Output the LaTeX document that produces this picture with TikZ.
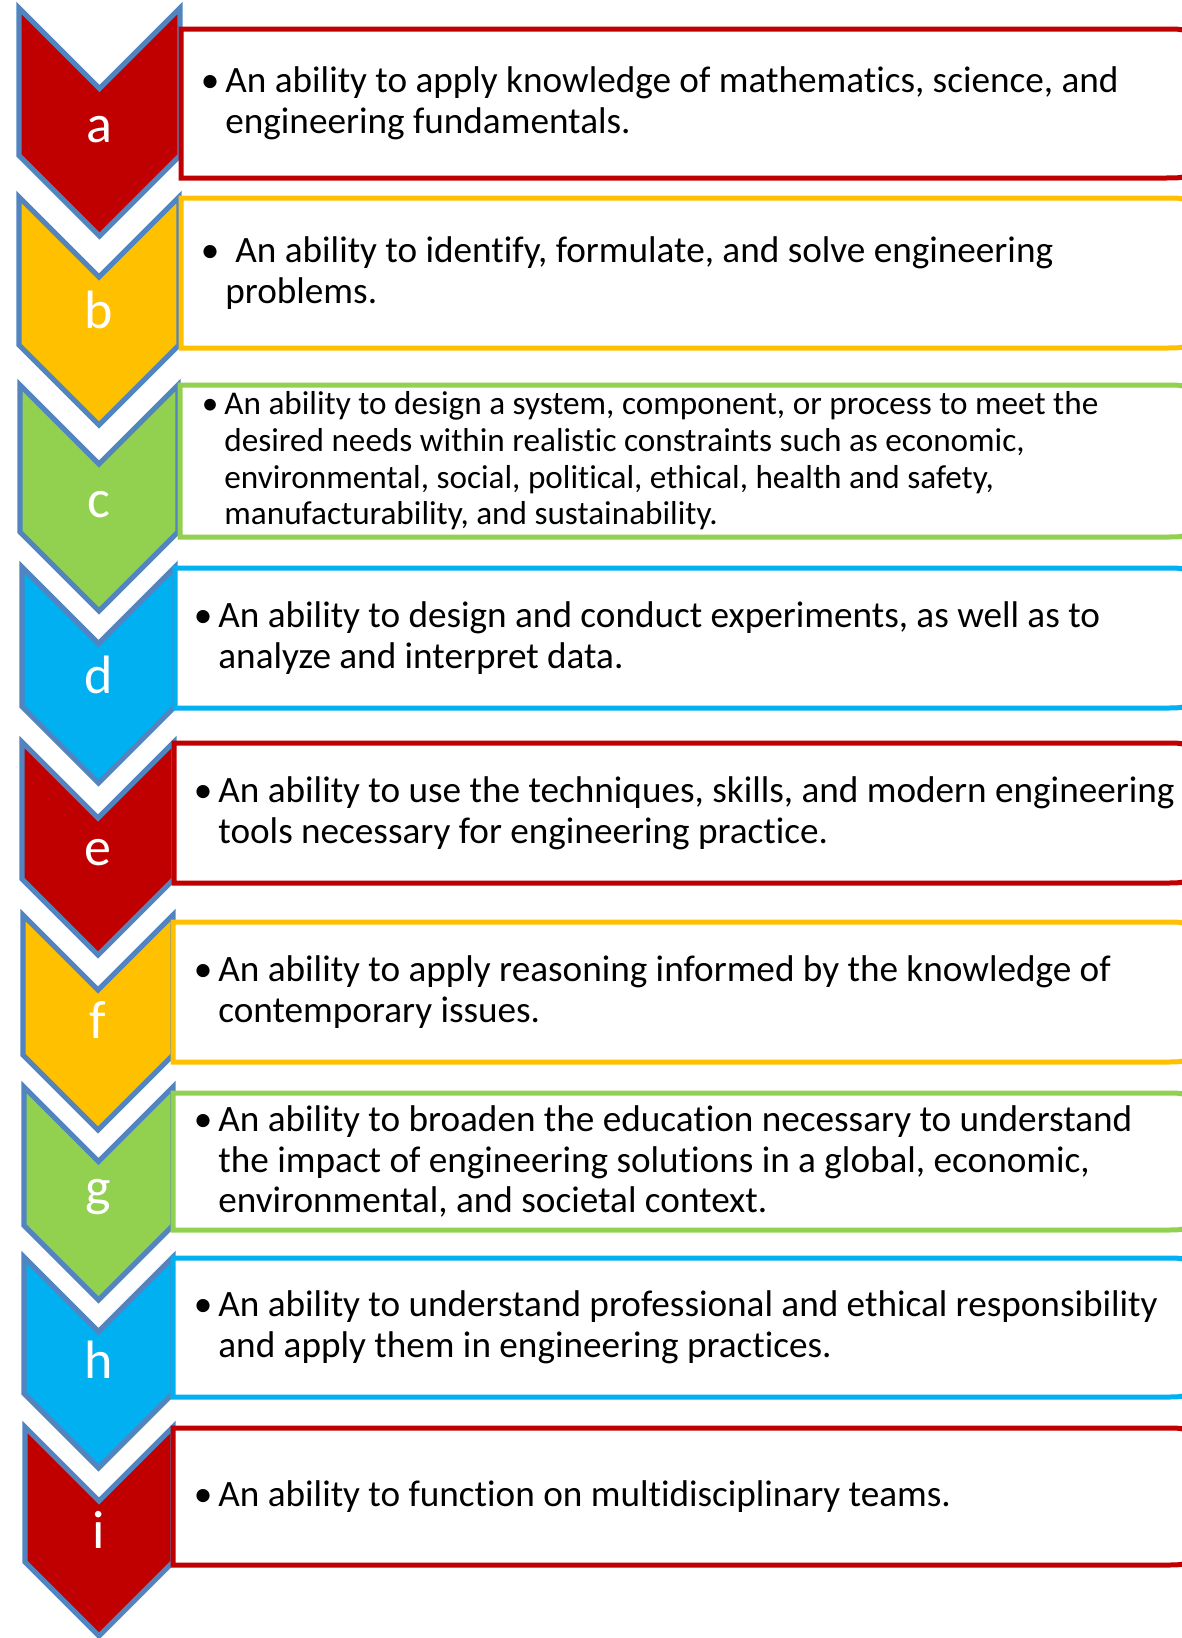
\documentclass[tikz,border=0pt]{standalone}
\usepackage{fontspec}
\setmainfont{Carlito}[Ligatures={NoCommon,NoRequired,NoContextual,NoDiscretionary}]
\definecolor{itemred}{HTML}{C00000}
\definecolor{itemyellow}{HTML}{FFC000}
\definecolor{itemgreen}{HTML}{92D050}
\definecolor{itemblue}{HTML}{00B0F0}
\definecolor{chevronline}{HTML}{5284C0}

\begin{document}
\begin{tikzpicture}[x=0.5pt,y=-0.5pt,
    chevron/.style={draw=chevronline,line width=2.6pt,line join=miter},
    itembox/.style={line width=2.5pt,fill=white},
    letter/.style={text=white,anchor=base,inner sep=0pt,font=\fontsize{27}{32}\selectfont},
    itemtext/.style={anchor=west,align=left,inner sep=0pt,font=\fontsize{18.6}{20.4}\selectfont},
    smalltext/.style={itemtext,font=\fontsize{16.6}{18.3}\selectfont}]

      \useasboundingbox (0,0) rectangle (1182,1638);
      \clip (0,0) rectangle (1182,1638);

      \foreach \n/\col/\L/\R/\T/\P/\bl/\bt/\bb/\base in {
          a/itemred/19/180/8/236/181/29/178/142,
          b/itemyellow/19/179/197/425/181/198/348/328,
          c/itemgreen/20/178/385/611/180/385/537/517,
          d/itemblue/22/175/567/783/175/568/708/693,
          e/itemred/22/174/742/955/174/743/883/865,
          f/itemyellow/23/173/915/1130/173/922/1062/1038,
          g/itemgreen/24/173/1087/1300/173/1093/1230/1205,
          h/itemblue/24/173/1257/1468/173/1258/1397/1378,
          i/itemred/25/173/1427/1636/173/1428/1565/1548}{
        \pgfmathsetmacro{\M}{(\L+\R)/2}
        \pgfmathsetmacro{\D}{(\R-\L)/2}
        \draw[chevron,fill=\col] (\L,\T) -- (\M,\T+\D) -- (\R,\T) -- (\R,\P-\D) -- (\M,\P) -- (\L,\P-\D) -- cycle;
        \node[letter] (lbl-\n) at (\M,\base) {\n};
        \draw[itembox,draw=\col] (\bl,\bt) -- (1165,\bt) .. controls (1190,\bt) .. (1190,\bt+25)
          -- (1190,\bb-25) .. controls (1190,\bb) .. (1165,\bb) -- (\bl,\bb) -- cycle;
      }

      \node[itemtext] (txt-a) at (225,103.5) {\llap{\textbullet\hspace{3pt}}An ability to apply knowledge of mathematics, science, and\\engineering fundamentals.};
      \node[itemtext] (txt-b) at (225,273) {\llap{\textbullet\hspace{3pt}}\hspace{5pt}An ability to identify, formulate, and solve engineering\\problems.};
      \node[smalltext] (txt-c) at (224,461) {\llap{\textbullet\hspace{3pt}}An ability to design a system, component, or process to meet the\\desired needs within realistic constraints such as economic,\\environmental, social, political, ethical, health and safety,\\manufacturability, and sustainability.};
      \node[itemtext] (txt-d) at (218,638) {\llap{\textbullet\hspace{3pt}}An ability to design and conduct experiments, as well as to\\analyze and interpret data.};
      \node[itemtext] (txt-e) at (218,813) {\llap{\textbullet\hspace{3pt}}An ability to use the techniques, skills, and modern engineering\\tools necessary for engineering practice.};
      \node[itemtext] (txt-f) at (218,992) {\llap{\textbullet\hspace{3pt}}An ability to apply reasoning informed by the knowledge of\\contemporary issues.};
      \node[itemtext] (txt-g) at (218,1161.5) {\llap{\textbullet\hspace{3pt}}An ability to broaden the education necessary to understand\\the impact of engineering solutions in a global, economic,\\environmental, and societal context.};
      \node[itemtext] (txt-h) at (218,1327.5) {\llap{\textbullet\hspace{3pt}}An ability to understand professional and ethical responsibility\\and apply them in engineering practices.};
      \node[itemtext] (txt-i) at (218,1496.5) {\llap{\textbullet\hspace{3pt}}An ability to function on multidisciplinary teams.};

    \end{tikzpicture}
\end{document}
